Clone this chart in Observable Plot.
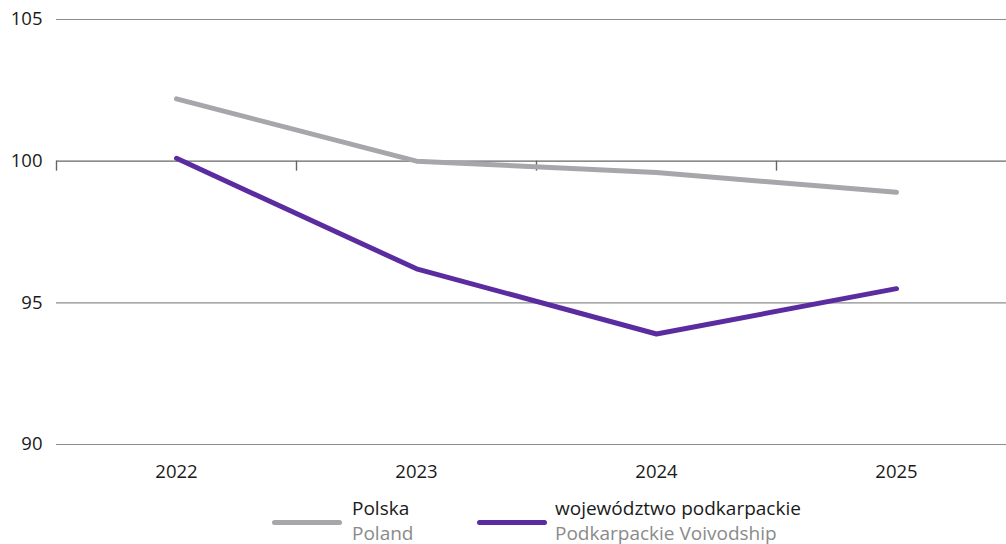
<!DOCTYPE html>
<html>
<head>
<meta charset="utf-8">
<script src="https://cdn.jsdelivr.net/npm/d3@7"></script>
<script src="https://cdn.jsdelivr.net/npm/@observablehq/plot@0.6"></script>
<style>
  html, body { margin: 0; padding: 0; background: #fff; }
  body { width: 1006px; height: 544px; overflow: hidden; font-family: "Open Sans", sans-serif; }
  #chart svg { display: block; }
  .legend { position: relative; height: 54px; font-size: 19px; line-height: 25px; }
  .swatch { position: absolute; top: 29.5px; width: 70px; height: 5px; border-radius: 3px; }
  .label { position: absolute; top: 6px; white-space: nowrap; }
  .pl { color: #1a1a1a; }
  .en { color: #8a8a8a; }
</style>
</head>
<body>
<div id="chart"></div>
<div class="legend" id="legend"></div>
<script>
const years = [2022, 2023, 2024, 2025];
const polska = [102.2, 100.0, 99.6, 98.9];
const podkarpackie = [100.1, 96.2, 93.9, 95.5];
const seriesNamesPL = ["Polska", "województwo podkarpackie"];
const seriesNamesEN = ["Poland", "Podkarpackie Voivodship"];
const seriesColors = ["#a7a7ab", "#5a2ca0"];
const yTicks = [90, 95, 100, 105];
const categoryBounds = [2021.5, 2022.5, 2023.5, 2024.5, 2025.5];

const data = [
  ...years.map((y, i) => ({year: y, value: polska[i], series: seriesNamesPL[0]})),
  ...years.map((y, i) => ({year: y, value: podkarpackie[i], series: seriesNamesPL[1]}))
];

const chart = Plot.plot({
  width: 1006,
  height: 490,
  marginTop: 19,
  marginBottom: 46,
  marginLeft: 57,
  marginRight: 0,
  style: {fontFamily: "'Open Sans', sans-serif", fontSize: "18.5px", color: "#1a1a1a", background: "#fff"},
  x: {type: "linear", domain: [2021.5, 2025.5], range: [56, 1016]},
  y: {domain: [90, 105], range: [444, 19]},
  color: {domain: seriesNamesPL, range: seriesColors},
  marks: [
    Plot.ruleY(yTicks.filter(d => d !== 100), {y: d => d, x1: 2021.5, x2: 2025.5, stroke: "#8c8c8c", strokeWidth: 1.2}),
    Plot.ruleY([100], {x1: 2021.5, x2: 2025.5, stroke: "#666", strokeWidth: 1.4}),
    Plot.ruleX(categoryBounds, {x: d => d, y1: 100, y2: 100, insetBottom: -10, stroke: "#666", strokeWidth: 1.4}),
    Plot.axisY({ticks: yTicks, tickSize: 0, tickPadding: 15, label: null, fontSize: 18.5}),
    Plot.axisX({ticks: years, tickFormat: d => String(d), tickSize: 0, tickPadding: 20, label: null, fontSize: 18.5}),
    Plot.line(data, {x: "year", y: "value", stroke: "series", z: "series", strokeWidth: 5, strokeLinecap: "round", strokeLinejoin: "round"})
  ]
});
document.getElementById("chart").appendChild(chart);

const legend = document.getElementById("legend");
const swatchLefts = [272, 477];
const labelLefts = [352, 555];
seriesNamesPL.forEach((name, i) => {
  const sw = document.createElement("div");
  sw.className = "swatch";
  sw.style.left = swatchLefts[i] + "px";
  sw.style.background = seriesColors[i];
  legend.appendChild(sw);
  const lab = document.createElement("div");
  lab.className = "label";
  lab.style.left = labelLefts[i] + "px";
  lab.innerHTML = `<div class="pl">${name}</div><div class="en">${seriesNamesEN[i]}</div>`;
  legend.appendChild(lab);
});
</script>
</body>
</html>
